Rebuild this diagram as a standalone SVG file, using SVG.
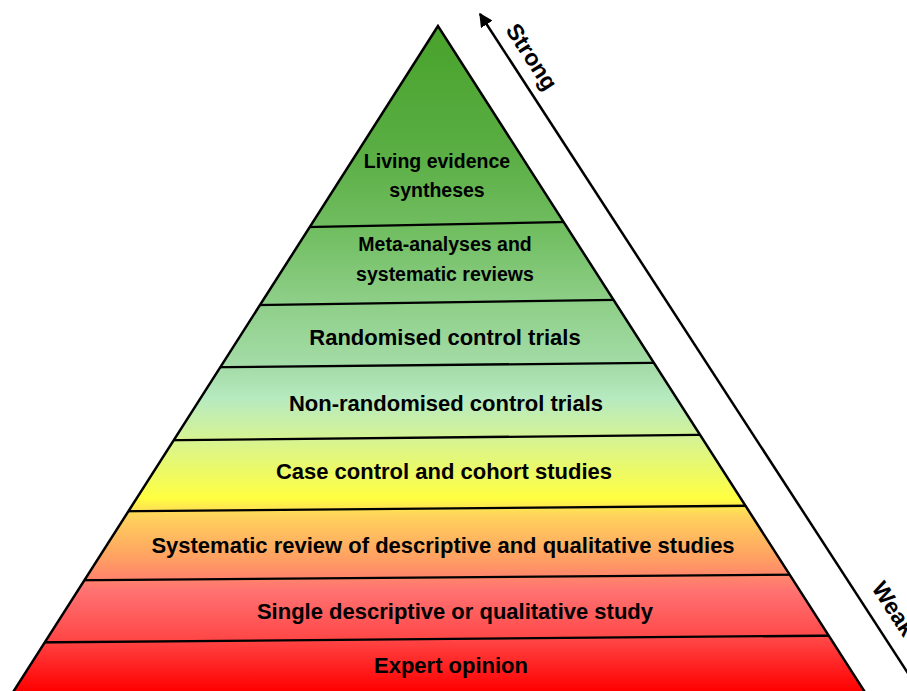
<svg xmlns="http://www.w3.org/2000/svg" width="907" height="691" viewBox="0 0 907 691">
<style>
.lbl{font-family:"Liberation Sans",Arial,sans-serif;font-weight:bold;fill:#000;text-anchor:middle;}
.big{font-size:22px;}
.small{font-size:19.5px;}
.sep{stroke:#000;stroke-width:2.3;fill:none;}
.axis{font-family:"Liberation Sans",Arial,sans-serif;font-weight:bold;font-size:23px;fill:#000;}
</style>
<defs>
<linearGradient id="g" x1="0" y1="26" x2="0" y2="691" gradientUnits="userSpaceOnUse">
<stop offset="0" stop-color="#48a22a"/>
<stop offset="0.19" stop-color="#5aae44"/>
<stop offset="0.31" stop-color="#72be62"/>
<stop offset="0.41" stop-color="#8cce86"/>
<stop offset="0.52" stop-color="#a6ddaa"/>
<stop offset="0.56" stop-color="#b6eac0"/>
<stop offset="0.625" stop-color="#d8f490"/>
<stop offset="0.71" stop-color="#ffff40"/>
<stop offset="0.735" stop-color="#ffd45c"/>
<stop offset="0.80" stop-color="#ffa062"/>
<stop offset="0.85" stop-color="#ff7272"/>
<stop offset="0.92" stop-color="#ff4848"/>
<stop offset="1" stop-color="#ff0000"/>
</linearGradient>
<clipPath id="tri"><polygon points="438,26 8,700 870,700"/></clipPath>
<marker id="ah" viewBox="0 0 10 10" refX="9" refY="5" markerWidth="5.5" markerHeight="5.5" orient="auto-start-reverse" markerUnits="strokeWidth">
<path d="M0,0 L10,5 L0,10 z" fill="#000"/>
</marker>
</defs>

<g id="pyramid">
<polygon points="438,26 8,700 870,700" fill="url(#g)"/>
</g>

<g id="connectors" clip-path="url(#tri)">
<line class="sep" x1="290" y1="227.4" x2="583" y2="221.6"/>
<line class="sep" x1="240" y1="305.4" x2="633" y2="299.6"/>
<line class="sep" x1="200" y1="367.4" x2="674" y2="362.6"/>
<line class="sep" x1="155" y1="440.4" x2="720" y2="434.6"/>
<line class="sep" x1="110" y1="511.4" x2="765" y2="505.6"/>
<line class="sep" x1="65" y1="580.4" x2="809" y2="574.6"/>
<line class="sep" x1="26" y1="642.5" x2="848" y2="635.5"/>
</g>
<polygon points="438,26 8,700 870,700" fill="none" stroke="#000" stroke-width="2.5" stroke-linejoin="miter"/>

<g id="level1"><text class="lbl small" x="437" y="168">Living evidence</text><text class="lbl small" x="437" y="197">syntheses</text></g>
<g id="level2"><text class="lbl small" x="445" y="251">Meta-analyses and</text><text class="lbl small" x="445" y="281">systematic reviews</text></g>
<g id="level3"><text class="lbl big" x="445" y="345">Randomised control trials</text></g>
<g id="level4"><text class="lbl big" x="446" y="411">Non-randomised control trials</text></g>
<g id="level5"><text class="lbl big" x="444" y="479">Case control and cohort studies</text></g>
<g id="level6"><text class="lbl big" x="443" y="553">Systematic review of descriptive and qualitative studies</text></g>
<g id="level7"><text class="lbl big" x="455" y="619">Single descriptive or qualitative study</text></g>
<g id="level8"><text class="lbl big" x="451" y="673">Expert opinion</text></g>

<g id="axis">
<line x1="915" y1="684" x2="480" y2="14" stroke="#000" stroke-width="2.5" marker-end="url(#ah)"/>
<text class="axis" transform="translate(505,30) rotate(57)">Strong</text>
<text class="axis" transform="translate(871,588) rotate(57)">Weak</text>
</g>
</svg>
